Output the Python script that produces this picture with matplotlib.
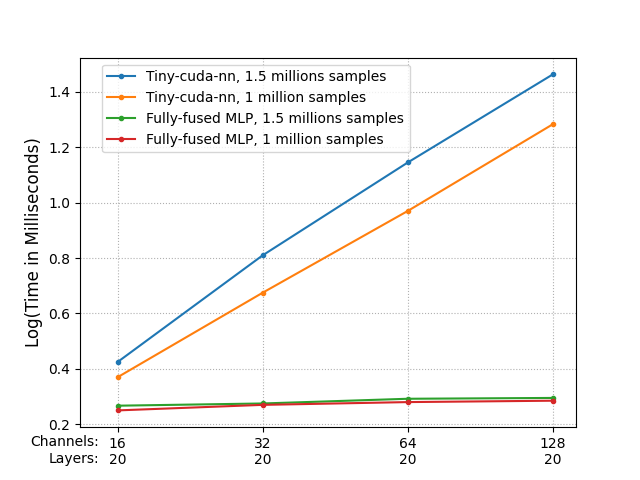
import matplotlib
matplotlib.use('Agg')
import matplotlib.pyplot as plt

channels = [16, 32, 64, 128]
layers = [20, 20, 20, 20]
tcnn_15m = [0.425, 0.81, 1.145, 1.463]
tcnn_1m = [0.37, 0.675, 0.97, 1.283]
fused_15m = [0.267, 0.275, 0.292, 0.295]
fused_1m = [0.25, 0.27, 0.28, 0.285]

x = list(range(len(channels)))
fig, ax = plt.subplots(figsize=(6.4, 4.8), dpi=100)
ax.plot(x, tcnn_15m, marker='.', label='Tiny-cuda-nn, 1.5 millions samples')
ax.plot(x, tcnn_1m, marker='.', label='Tiny-cuda-nn, 1 million samples')
ax.plot(x, fused_15m, marker='.', label='Fully-fused MLP, 1.5 millions samples')
ax.plot(x, fused_1m, marker='.', label='Fully-fused MLP, 1 million samples')

ax.set_xticks(x)
ax.set_xticklabels([f'{c}\n{l}' for c, l in zip(channels, layers)])
ax.set_xlim(-0.26, 3.16)
ax.text(-0.13, -0.022, 'Channels:\nLayers:', transform=ax.get_xaxis_transform(),
        ha='right', va='top', fontsize=10, multialignment='right')
ax.set_ylabel('Log(Time in Milliseconds)', fontsize=12)
ax.grid(True, linestyle=':')
ax.legend(loc='upper left', bbox_to_anchor=(0.03, 1.0))
plt.savefig('out.png')
